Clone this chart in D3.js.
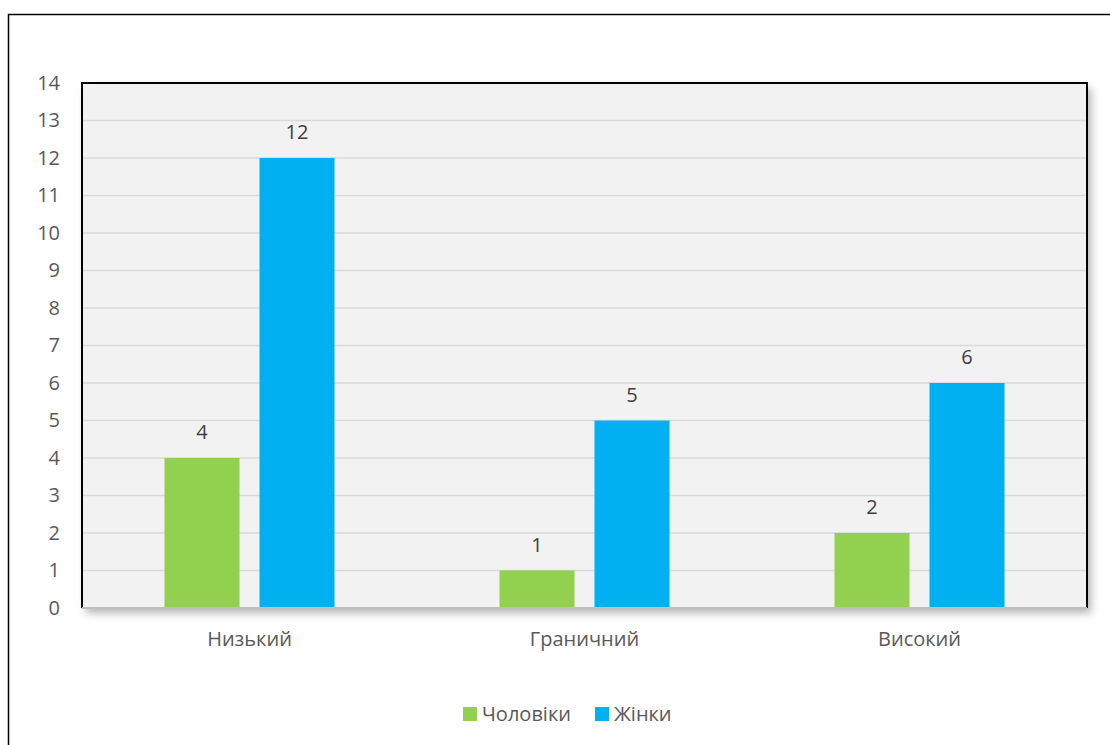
<!DOCTYPE html>
<html><head><meta charset="utf-8">
<script src="https://cdn.jsdelivr.net/npm/d3@7"></script>
<style>html,body{margin:0;padding:0;background:#fff;}svg{display:block;font-family:"Open Sans",sans-serif;}</style>
</head><body>
<svg id="c" width="1110" height="745"></svg>
<script>
const categories = ["Низький", "Граничний", "Високий"];
const seriesNames = ["Чоловіки", "Жінки"];
const men = [4, 1, 2];
const women = [12, 5, 6];
const yTicks = [0,1,2,3,4,5,6,7,8,9,10,11,12,13,14];
const colors = ["#92d050", "#00b0f0"];

const svg = d3.select("#c");
const defs = svg.append("defs");
const f = defs.append("filter").attr("id","sh").attr("x","-5%").attr("y","-5%").attr("width","115%").attr("height","120%");
f.append("feDropShadow").attr("dx",4).attr("dy",5).attr("stdDeviation",4).attr("flood-color","#000").attr("flood-opacity",0.3);

// outer border
svg.append("rect").attr("x",8.5).attr("y",14.5).attr("width",1110).attr("height",740)
  .attr("fill","#fff").attr("stroke","#000").attr("stroke-width",1.5);

const L=82, T=83, R=1087, B=608;
const FS = 20;
const y = d3.scaleLinear().domain([0,14]).range([B,T]);
const x0 = d3.scaleBand().domain(categories).range([L,R]);

svg.append("rect").attr("x",L).attr("y",T).attr("width",R-L).attr("height",B-T)
  .attr("fill","#f2f2f2").attr("filter","url(#sh)");

// gridlines
svg.append("g").selectAll("line").data(yTicks.filter(d=>d>0)).join("line")
  .attr("x1",L).attr("x2",R).attr("y1",d=>y(d)).attr("y2",d=>y(d))
  .attr("stroke","#d9d9d9").attr("stroke-width",1.5);

// y axis labels
const ya = svg.append("g").attr("transform",`translate(${L},0)`)
  .call(d3.axisLeft(y).tickValues(yTicks).tickSize(0).tickPadding(22).tickFormat(d3.format("d")));
ya.select(".domain").remove();
ya.selectAll("text").attr("font-size",FS).attr("fill","#595959").attr("font-family","Open Sans, sans-serif");

// bars
const barW = 75, gap = 20;
const series = [men, women];
series.forEach((vals, si) => {
  const off = si === 0 ? -(gap/2 + barW) : gap/2;
  svg.append("g").selectAll("rect").data(categories).join("rect")
    .attr("x", (c)=> x0(c) + x0.bandwidth()/2 + off)
    .attr("y", (c,i)=> y(vals[i]))
    .attr("width", barW)
    .attr("height", (c,i)=> B - y(vals[i]))
    .attr("fill", colors[si]);
  svg.append("g").selectAll("text").data(categories).join("text")
    .attr("x", (c)=> x0(c) + x0.bandwidth()/2 + off + barW/2)
    .attr("y", (c,i)=> y(vals[i]) - 19)
    .attr("text-anchor","middle").attr("font-size",FS).attr("fill","#404040")
    .text((c,i)=>vals[i]);
});

// plot border (left, top, right) and bottom axis
svg.append("path").attr("d",`M${L},${B}V${T}H${R}V${B}`).attr("fill","none").attr("stroke","#000").attr("stroke-width",2);
svg.append("line").attr("x1",L).attr("x2",R).attr("y1",B).attr("y2",B).attr("stroke","#bfbfbf").attr("stroke-width",2);

// x axis labels
const xa = svg.append("g").attr("transform",`translate(0,${B})`)
  .call(d3.axisBottom(x0).tickSize(0).tickPadding(24));
xa.select(".domain").remove();
xa.selectAll("text").attr("font-size",FS).attr("fill","#595959").attr("font-family","Open Sans, sans-serif");

// legend
const leg = [{x:463, tx:482}, {x:595, tx:614}];
seriesNames.forEach((n,i)=>{
  svg.append("rect").attr("x",leg[i].x).attr("y",707).attr("width",14).attr("height",14).attr("fill",colors[i]);
  svg.append("text").attr("x",leg[i].tx).attr("y",721).attr("font-size",FS).attr("fill","#595959").text(n);
});
</script>
</body></html>
